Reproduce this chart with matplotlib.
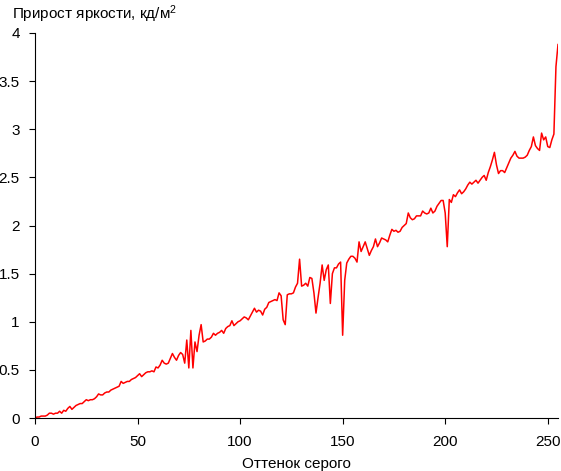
import numpy as np
import matplotlib.pyplot as plt

plt.rcParams['font.family'] = ['Liberation Sans', 'DejaVu Sans']
plt.rcParams['mathtext.default'] = 'regular'

# прирост яркости для каждого оттенка серого 0..255
prirost = [
    0.00, 0.01, 0.01, 0.02, 0.02, 0.02, 0.03, 0.05, 0.05, 0.04,
    0.05, 0.05, 0.07, 0.05, 0.08, 0.07, 0.10, 0.12, 0.09, 0.11,
    0.13, 0.14, 0.15, 0.15, 0.17, 0.19, 0.18, 0.19, 0.19, 0.20,
    0.22, 0.25, 0.24, 0.24, 0.26, 0.27, 0.27, 0.29, 0.30, 0.31,
    0.32, 0.33, 0.38, 0.36, 0.37, 0.38, 0.38, 0.40, 0.41, 0.42,
    0.44, 0.46, 0.43, 0.45, 0.47, 0.48, 0.48, 0.49, 0.48, 0.53,
    0.52, 0.55, 0.60, 0.57, 0.56, 0.57, 0.62, 0.67, 0.63, 0.60,
    0.65, 0.68, 0.66, 0.57, 0.81, 0.52, 0.91, 0.52, 0.79, 0.69,
    0.86, 0.97, 0.79, 0.80, 0.82, 0.82, 0.84, 0.88, 0.86, 0.88,
    0.89, 0.91, 0.88, 0.93, 0.95, 0.96, 1.01, 0.96, 0.98, 1.00,
    1.01, 1.03, 1.05, 1.04, 1.02, 1.06, 1.10, 1.14, 1.10, 1.12,
    1.11, 1.07, 1.13, 1.15, 1.20, 1.21, 1.22, 1.23, 1.22, 1.30,
    1.27, 1.02, 0.97, 1.28, 1.29, 1.29, 1.30, 1.36, 1.40, 1.65,
    1.37, 1.38, 1.40, 1.37, 1.46, 1.45, 1.30, 1.09, 1.25, 1.40,
    1.59, 1.43, 1.54, 1.59, 1.19, 1.50, 1.56, 1.56, 1.60, 1.62,
    0.86, 1.43, 1.61, 1.65, 1.68, 1.68, 1.66, 1.62, 1.83, 1.73,
    1.78, 1.83, 1.76, 1.69, 1.74, 1.78, 1.86, 1.78, 1.82, 1.87,
    1.86, 1.85, 1.83, 1.90, 1.96, 1.94, 1.95, 1.93, 1.94, 1.98,
    2.00, 2.02, 2.13, 2.08, 2.06, 2.07, 2.10, 2.10, 2.10, 2.15,
    2.13, 2.12, 2.13, 2.18, 2.13, 2.15, 2.20, 2.23, 2.26, 2.26,
    2.13, 1.78, 2.27, 2.24, 2.32, 2.30, 2.34, 2.37, 2.33, 2.35,
    2.38, 2.42, 2.45, 2.43, 2.45, 2.47, 2.44, 2.47, 2.50, 2.52,
    2.47, 2.55, 2.61, 2.68, 2.76, 2.63, 2.54, 2.57, 2.57, 2.55,
    2.60, 2.65, 2.70, 2.73, 2.77, 2.72, 2.70, 2.70, 2.70, 2.71,
    2.73, 2.78, 2.82, 2.92, 2.83, 2.80, 2.78, 2.96, 2.89, 2.92,
    2.82, 2.81, 2.89, 2.95, 3.65, 3.88,
]
ottenok = np.arange(len(prirost))

x_ticks = [0, 50, 100, 150, 200, 250]
y_ticks = [0, 0.5, 1, 1.5, 2, 2.5, 3, 3.5, 4]
y_labels = ['0', '0.5', '1', '1.5', '2', '2.5', '3', '3.5', '4']

fig = plt.figure(figsize=(5.61, 4.71), dpi=100)
ax = fig.add_axes([35/561, 53/471, 523/561, 385/471])

ax.plot(ottenok, prirost, color='#ff0000', linewidth=1.1)

ax.set_xlim(0, 255)
ax.set_ylim(0, 4)
ax.set_xticks(x_ticks)
ax.set_yticks(y_ticks)
ax.set_yticklabels(y_labels)

for s in ['top', 'right']:
    ax.spines[s].set_visible(False)
for s in ['left', 'bottom']:
    ax.spines[s].set_linewidth(0.8)
ax.tick_params(axis='both', direction='out', length=4, width=0.8, labelsize=11)
ax.tick_params(axis='x', pad=8)
ax.tick_params(axis='y', pad=7)

ax.set_xlabel('Оттенок серого', fontsize=11, labelpad=6)
fig.text(12/561, 1 - 19/471, 'Прирост яркости, кд/м$^2$', fontsize=11,
         ha='left', va='baseline')

fig.savefig('out.png', dpi=100)
